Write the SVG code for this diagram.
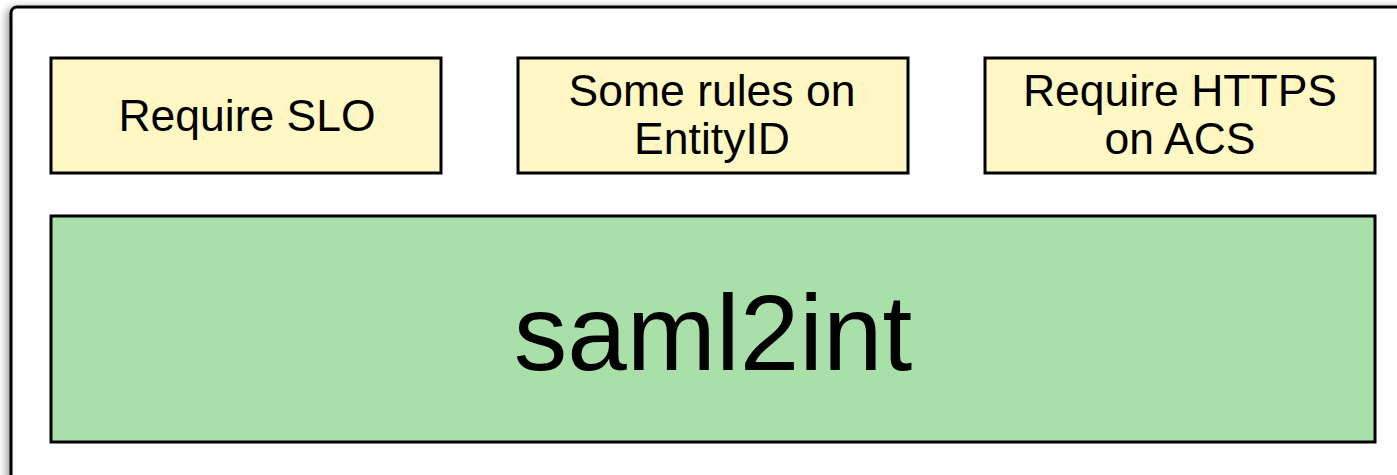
<svg xmlns="http://www.w3.org/2000/svg" width="1397" height="475" viewBox="0 0 1397 475">
<defs>
<filter id="sh" x="-5%" y="-5%" width="110%" height="110%">
<feGaussianBlur in="SourceAlpha" stdDeviation="4"/>
<feOffset dx="-3" dy="2"/>
<feComponentTransfer><feFuncA type="linear" slope="0.4"/></feComponentTransfer>
<feMerge><feMergeNode/><feMergeNode in="SourceGraphic"/></feMerge>
</filter>
</defs>
<style>
.box{stroke:#000;stroke-width:3}
.y{fill:#FFF8C4}
.g{fill:#A9DFA9}
.t{font-family:"Liberation Sans",Arial,sans-serif;fill:#000;text-anchor:middle}
.s{font-size:44.5px}
.b{font-size:107px}
</style>
<rect width="1397" height="475" fill="#fff"/>
<rect x="11" y="7" width="1410" height="490" rx="6" fill="#fff" stroke="#000" stroke-width="3" filter="url(#sh)"/>
<g id="n1">
<rect class="box y" x="51" y="58" width="390" height="115"/>
<text class="t s" x="247" y="131">Require SLO</text>
</g>
<g id="n2">
<rect class="box y" x="518" y="58" width="390" height="115"/>
<text class="t s" x="712" y="106">Some rules on</text>
<text class="t s" x="712" y="154">EntityID</text>
</g>
<g id="n3">
<rect class="box y" x="985" y="58" width="390" height="115"/>
<text class="t s" x="1180" y="106">Require HTTPS</text>
<text class="t s" x="1180" y="154">on ACS</text>
</g>
<g id="n4">
<rect class="box g" x="51" y="216" width="1324" height="226"/>
<text class="t b" x="713" y="370">saml2int</text>
</g>
<g id="connectors"/>
</svg>
